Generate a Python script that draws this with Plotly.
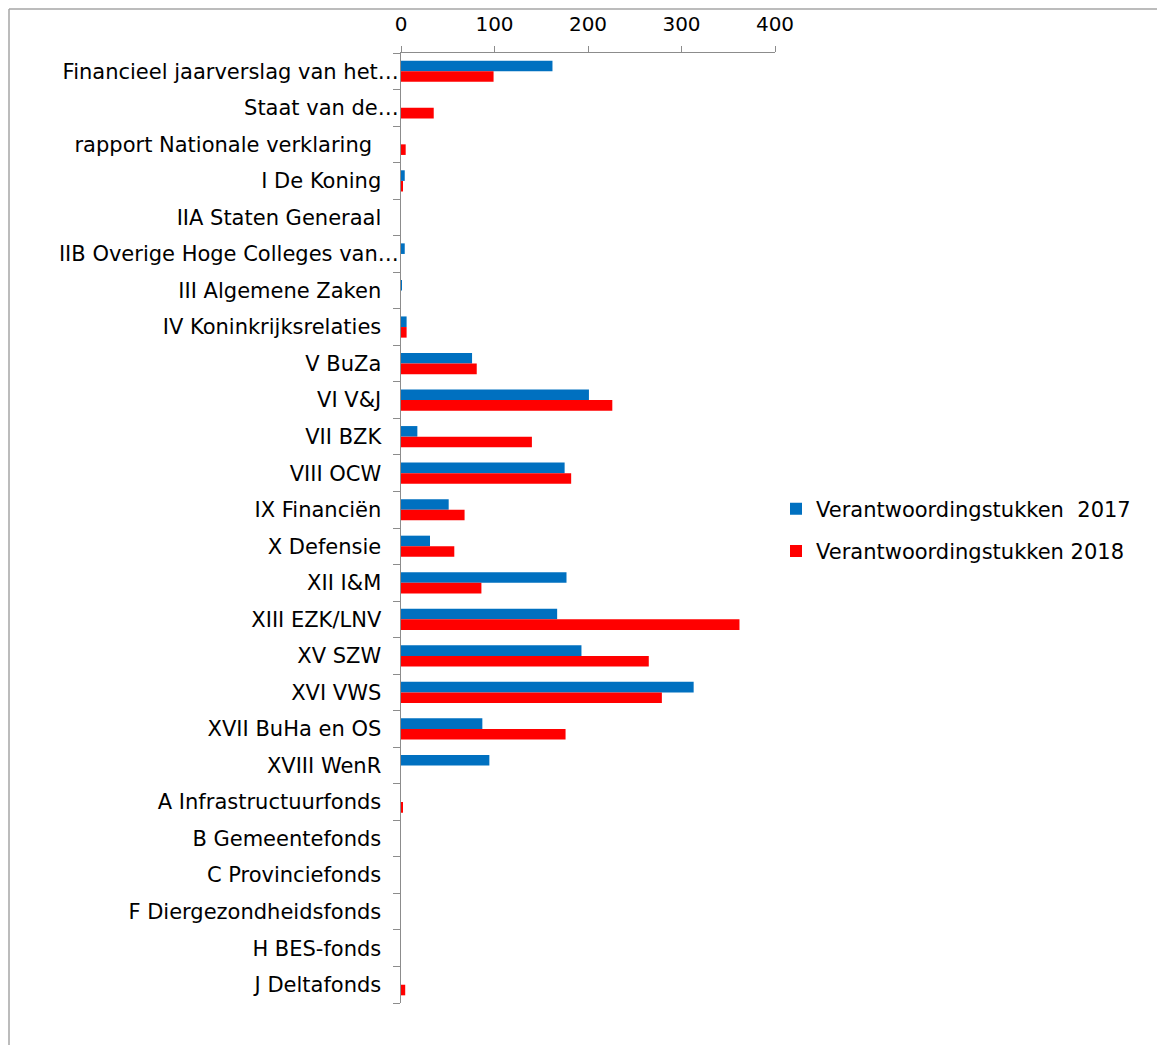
import plotly.graph_objects as go

categories = [
    "Financieel jaarverslag van het…",
    "Staat van de…",
    "rapport Nationale verklaring ",
    "I De Koning",
    "IIA Staten Generaal",
    "IIB Overige Hoge Colleges van…",
    "III Algemene Zaken",
    "IV Koninkrijksrelaties",
    "V BuZa",
    "VI V&J",
    "VII BZK",
    "VIII OCW",
    "IX Financiën",
    "X Defensie",
    "XII I&M",
    "XIII EZK/LNV",
    "XV SZW",
    "XVI VWS",
    "XVII BuHa en OS",
    "XVIII WenR",
    "A Infrastructuurfonds",
    "B Gemeentefonds",
    "C Provinciefonds",
    "F Diergezondheidsfonds",
    "H BES-fonds",
    "J Deltafonds",
]

values_2017 = [162, 0, 0, 4, 0, 4, 0.5, 6, 76, 201, 17.5, 175, 51, 31, 177, 167,
               193, 313, 87, 94.5, 0, 0, 0, 0, 0, 0]
values_2018 = [99, 35, 5, 1.5, 0, 0, 0, 6, 81, 226, 140, 182, 68, 57, 86, 362,
               265, 279, 176, 0, 1.5, 0, 0, 0, 0, 4.5]

series_names = ["Verantwoordingstukken\u00a0 2017", "Verantwoordingstukken 2018"]
x_ticks = [0, 100, 200, 300, 400]

FONT = "DejaVu Sans"
AXIS_COLOR = "#8c8c8c"


def tick_text(label):
    # labels that are not truncated sit a bit further from the axis
    if label.endswith("…"):
        return label
    if label.endswith(" "):
        return label.rstrip() + "\u00a0\u00a0\u00a0\u00a0"
    return label + "\u00a0\u00a0\u2009"


fig = go.Figure()
fig.add_trace(go.Bar(y=categories, x=values_2017, orientation="h", legendgroup="a",
                     name=series_names[0], marker=dict(color="#0070C0", line=dict(width=0))))
fig.add_trace(go.Bar(y=categories, x=values_2018, orientation="h", legendgroup="b",
                     name=series_names[1], marker=dict(color="#FF0000", line=dict(width=0))))

W, H = 1157, 1045
L, R, T, B = 401, 1157 - 775, 53, 1045 - 1003
pw, ph = W - L - R, H - T - B


def px_x(px):
    return (px - L) / pw


def px_y(py):
    return (H - B - py) / ph


fig.update_layout(
    width=W, height=H,
    margin=dict(l=L, r=R, t=T, b=B, pad=0),
    paper_bgcolor="white", plot_bgcolor="white",
    font=dict(family=FONT, size=21, color="#000000"),
    barmode="group", bargap=0.42, bargroupgap=0.0,
    showlegend=True,
    legend=dict(x=px_x(776), y=px_y(530), xanchor="left", yanchor="middle",
                font=dict(family=FONT, size=21), tracegroupgap=12,
                traceorder="grouped", bgcolor="rgba(0,0,0,0)"),
    xaxis=dict(side="top", range=[0, 400], tickvals=x_ticks, ticktext=[str(v) for v in x_ticks],
               showgrid=False, zeroline=False, showline=True, linecolor=AXIS_COLOR, linewidth=1,
               ticks="outside", ticklen=6, tickcolor=AXIS_COLOR, tickfont=dict(size=20),
               ticklabelstandoff=7, fixedrange=True),
    yaxis=dict(autorange="reversed", type="category", categoryarray=categories,
               tickvals=categories, ticktext=[tick_text(c) for c in categories],
               showgrid=False, zeroline=False, showline=True, linecolor=AXIS_COLOR, linewidth=1,
               ticks="outside", ticklen=7, tickcolor=AXIS_COLOR, tickson="boundaries",
               tickfont=dict(size=21), ticklabelstandoff=-3, fixedrange=True),
    shapes=[
        dict(type="line", xref="paper", yref="paper", x0=px_x(9), x1=px_x(9),
             y0=px_y(9), y1=px_y(1100), line=dict(color="#a6a6a6", width=1.5)),
        dict(type="line", xref="paper", yref="paper", x0=px_x(9), x1=px_x(1200),
             y0=px_y(9), y1=px_y(9), line=dict(color="#a6a6a6", width=1.5)),
    ],
)

fig.write_html("out.html", config={"displayModeBar": False},
               post_script="document.body.style.margin='0px';")
